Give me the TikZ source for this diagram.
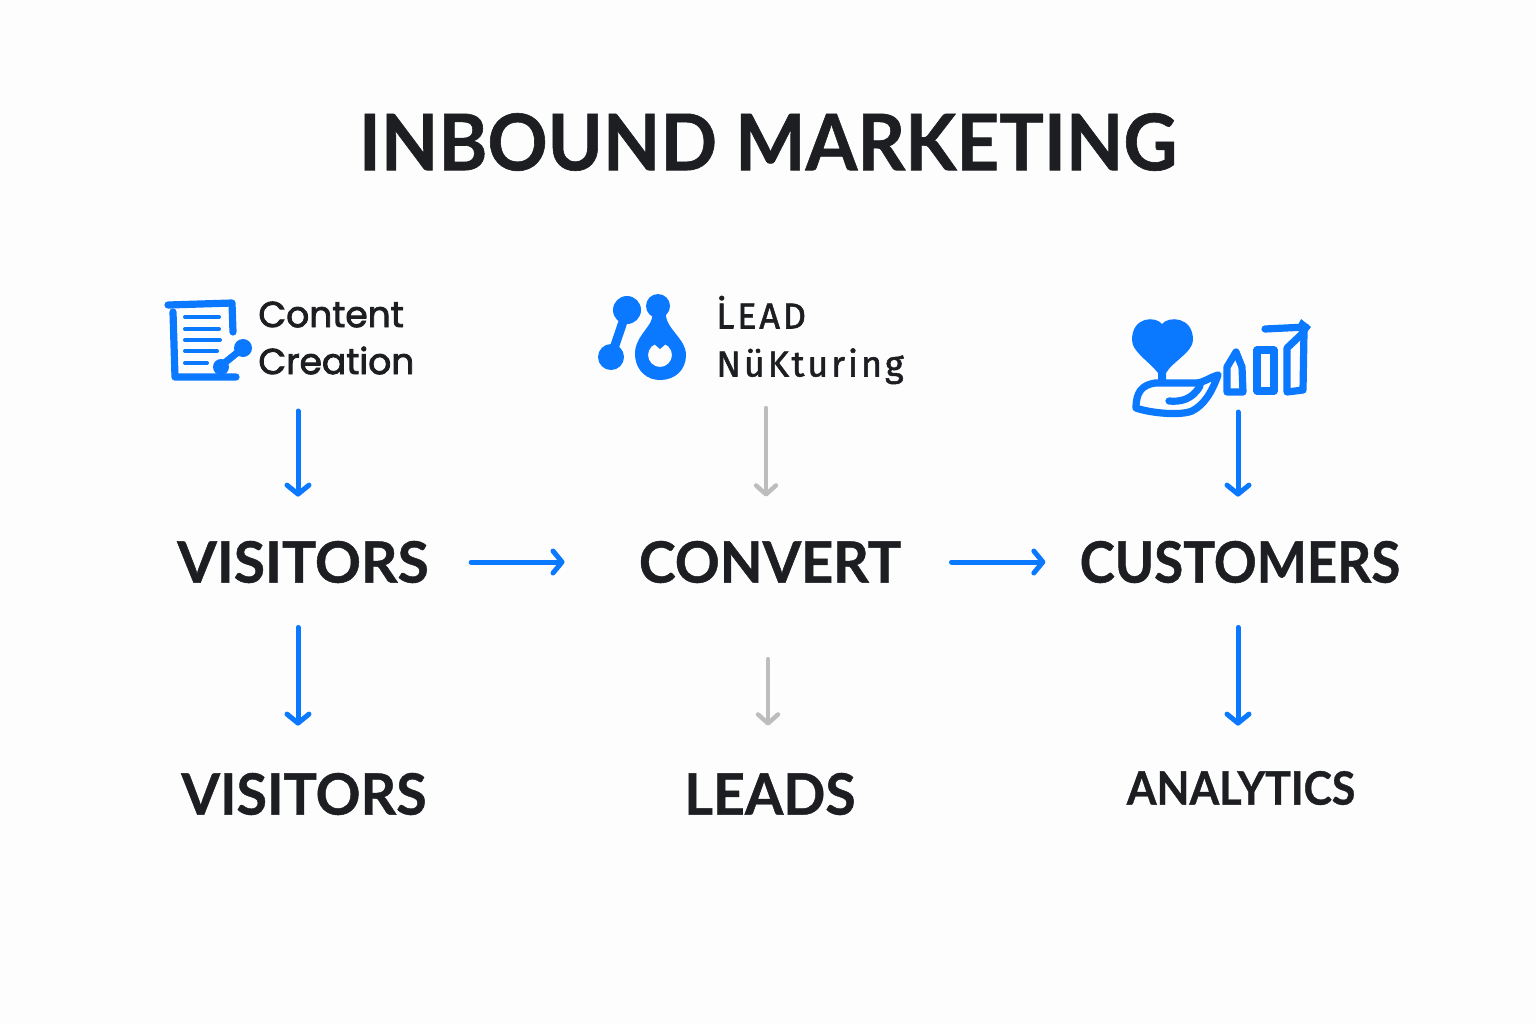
\documentclass[tikz,border=0pt]{standalone}
\usepackage{fontspec}
\setmainfont[BoldFeatures={FakeBold=0.8}]{Lato}
\newfontfamily\iconfont[FakeBold=2.4]{Poppins}
\newfontfamily\leadfont[FakeBold=1.5,LetterSpace=8]{Fira Sans}
\usetikzlibrary{arrows.meta}
\definecolor{brandblue}{HTML}{0A78FF}
\definecolor{inkdark}{HTML}{1C1E21}
\definecolor{arrowgrey}{HTML}{BDBDBD}
\definecolor{pagewhite}{HTML}{FDFDFD}
\tikzset{
  x=0.5pt,y=-0.5pt,
  bigword/.style={font=\fontsize{28.5}{34}\selectfont\bfseries,text=inkdark,inner sep=0pt,minimum height=65pt},
  smallword/.style={font=\fontsize{18}{23.5}\selectfont,text=inkdark,inner sep=0pt,align=left,anchor=west},
  bluearrow/.style={draw=brandblue,line width=2.5pt,line cap=round,-{Straight Barb[round,length=4.5pt,width=11pt]}},
  greyarrow/.style={draw=arrowgrey,line width=2.2pt,line cap=round,-{Straight Barb[round,length=4.5pt,width=10pt]}},
  iconline/.style={draw=brandblue,line width=3.6pt,line cap=round,line join=round},
}
\begin{document}
\begin{tikzpicture}
\useasboundingbox[fill=pagewhite] (0,0) rectangle (1536,1024);
%title
\node[font=\fontsize{39}{46}\selectfont\bfseries,text=inkdark,inner sep=0pt,xscale=0.955,transform shape] (title) at (768,142) {INBOUND MARKETING};
%top labels
\node[smallword,font=\iconfont\fontsize{18}{23.5}\selectfont] (contentLabel) at (258,338) {Content\\Creation};
\node[smallword,font=\leadfont\fontsize{18}{24}\selectfont] (leadLabel) at (716,340) {\.{L}EAD\\NüKturing};
%middle row
\node[bigword] (visitorsMid) at (303,562) {VISITORS};
\node[bigword,xscale=0.975,transform shape] (convertMid) at (770,562) {CONVERT};
\node[bigword,xscale=0.93,transform shape] (customersMid) at (1240,562) {CUSTOMERS};
%bottom row
\node[bigword,minimum height=68pt,xscale=0.975,transform shape] (visitorsLow) at (304,794) {VISITORS};
\node[bigword,minimum height=68pt,xscale=0.97,transform shape] (leadsLow) at (770,794) {LEADS};
\node[bigword,minimum height=62pt,font=\fontsize{23}{28}\selectfont\bfseries,xscale=0.93,transform shape] (analyticsLow) at (1241,788) {ANALYTICS};
%arrow tails
\coordinate (contentOut) at (298,411);
\coordinate (leadOut) at (766,408);
\coordinate (careOut) at (1238,412);
\coordinate (convertOut) at (768,659);
%arrows
\draw[bluearrow] (contentOut) -- (contentOut |- visitorsMid.north);
\draw[greyarrow] (leadOut) -- (leadOut |- convertMid.north);
\draw[bluearrow] (careOut) -- (careOut |- customersMid.north);
\draw[bluearrow] ([xshift=-2.5pt]visitorsMid.south) -- ([xshift=-2.5pt]visitorsMid.south |- visitorsLow.north);
\draw[greyarrow] (convertOut) -- (convertOut |- leadsLow.north);
\draw[bluearrow] ([xshift=-1pt]customersMid.south) -- ([xshift=-1pt]customersMid.south |- analyticsLow.north);
\draw[bluearrow] ([xshift=21pt]visitorsMid.east) -- ([xshift=-37pt]convertMid.west);
\draw[bluearrow] ([xshift=25pt]convertMid.east) -- ([xshift=-17pt]customersMid.west);
%document icon
\begin{scope}
\draw[iconline] (173,312) -- (175,377) -- (236,377);
\draw[iconline] (168,305) -- (232,303) -- (233,332);
\foreach \y/\r in {317/219,329/219,340/220,351/217,363/207}
  \draw[draw=brandblue,line width=2pt,line cap=round] (185,\y) -- (\r,\y);
\draw[draw=brandblue,line width=3.5pt,line cap=round] (243,348) -- (222,365);
\fill[brandblue] (243,348) circle[radius=9];
\fill[brandblue] (221,367) circle[radius=8];
\end{scope}
%lead icon
\begin{scope}
\fill[brandblue] (627,310) circle[radius=14];
\fill[brandblue] (658,306) circle[radius=12];
\fill[brandblue] (611,357) circle[radius=13];
\draw[draw=brandblue,line width=4.5pt] (627,310) -- (611,357);
\fill[brandblue,even odd rule] (652,312) .. controls (656,325) and (634,335) .. (635,355)
  .. controls (636,372) and (648,380) .. (660,380) .. controls (675,380) and (686,370) .. (686,355)
  .. controls (686,338) and (664,328) .. (666,312) -- cycle
  (660,355) circle[radius=12];
\fill[brandblue] (653,343) -- (660,349) -- (667,343) -- (660,340) -- cycle;
\end{scope}
%customer icon
\begin{scope}
\fill[brandblue] (1162,324) .. controls (1168,316) and (1193,316) .. (1193,340)
  .. controls (1193,352) and (1172,362) .. (1166,373) -- (1166,382) -- (1158,382) -- (1158,373)
  .. controls (1150,362) and (1132,352) .. (1132,340) .. controls (1132,316) and (1156,316) .. (1162,324) -- cycle;
\draw[iconline] (1218,375) .. controls (1208,378) and (1204,383) .. (1195,383) -- (1155,383)
  .. controls (1142,385) and (1136,392) .. (1136,408) .. controls (1150,413) and (1180,416) .. (1192,411)
  .. controls (1204,405) and (1212,392) .. (1218,375);
\draw[iconline] (1169,401) .. controls (1180,402) and (1192,400) .. (1200,386);
\draw[iconline] (1227,392) -- (1227,367) -- (1236,352) -- (1242,367) -- (1243,392) -- cycle;
\draw[iconline] (1257,350) rectangle (1274,391);
\draw[iconline] (1287,392) -- (1287,348) -- (1304,332) -- (1303,390) -- cycle;
\draw[iconline] (1265,329) -- (1306,327);
\fill[brandblue] (1301,319) -- (1311,327) -- (1304,336) -- (1296,329) -- cycle;
\end{scope}
\end{tikzpicture}
\end{document}
